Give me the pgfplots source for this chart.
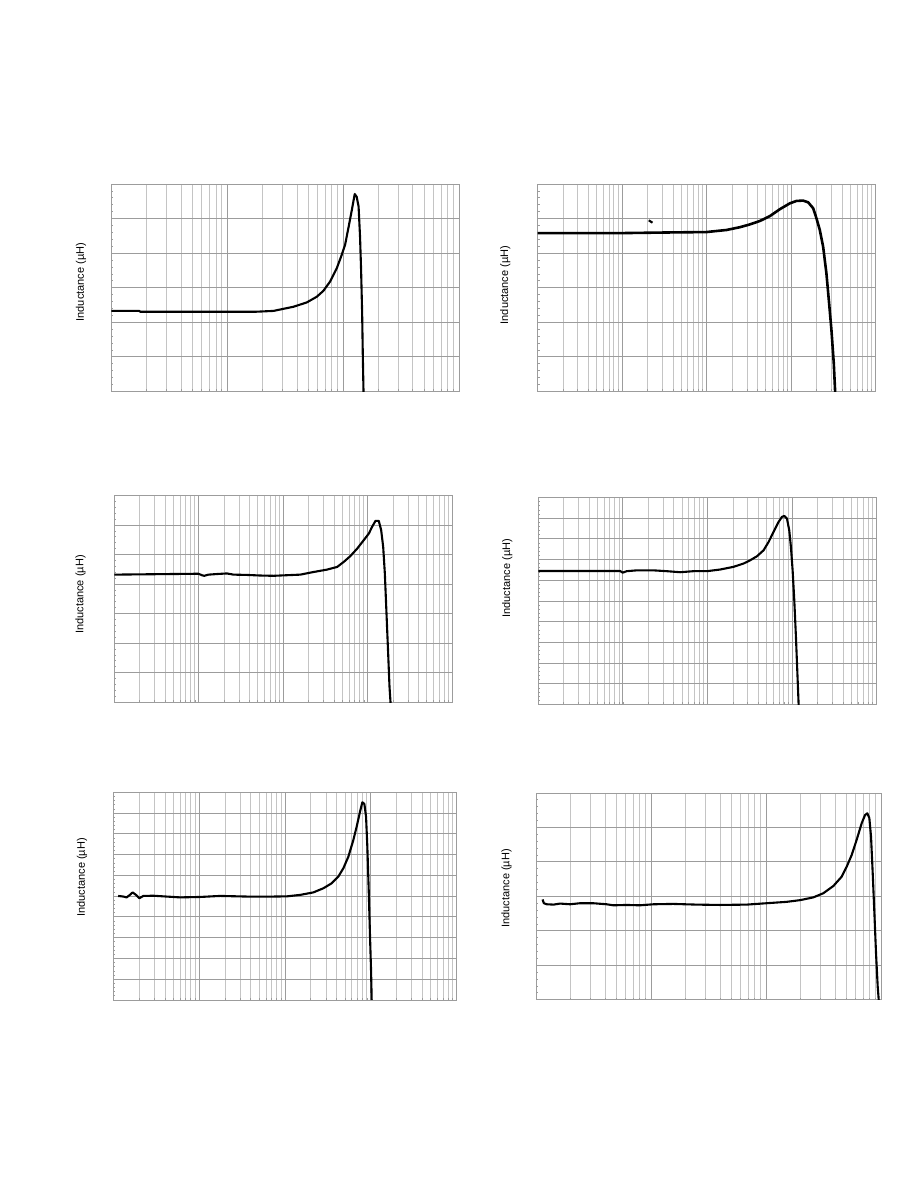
\documentclass[border=0pt]{standalone}
\usepackage{pgfplots}
\pgfplotsset{compat=1.18}
\usepackage{fontspec}
\setmainfont{Liberation Sans}

\definecolor{gridmaj}{HTML}{9C9C9C}
\definecolor{gridmin}{HTML}{C4C4C4}

\pgfplotsset{
  indpanel/.style={
    scale only axis, anchor=south west,
    ymin=0, ytick distance=1, minor y tick num=4,
    xticklabels={}, yticklabels={},
    xmajorgrids, xminorgrids, ymajorgrids,
    major grid style={draw=gridmaj, line width=0.9pt},
    minor grid style={draw=gridmin, line width=0.9pt},
    axis line style={draw=gridmaj, line width=0.9pt},
    major tick length=0pt, minor tick length=2pt,
    tick style={draw=gridmaj, line width=0.8pt},
    ytick pos=left, xtick pos=bottom,
    ylabel={Inductance (µH)},
    label style={font=\fontsize{11}{13}\selectfont},
  },
  ylpos/.style 2 args={ylabel style={at={(axis description cs:#1,#2)}, anchor=center}},
}
\tikzset{indcurve/.style={black, line width=2.1pt, line join=round}}

\begin{document}
\begin{tikzpicture}
\path (0,0) rectangle (918pt,1188pt);

% top left
\begin{semilogxaxis}[indpanel, at={(111.3pt,796.5pt)}, width=347.7pt, height=207.5pt,
  xmin=1, xmax=1000, ymax=6, ylpos={-0.087}{0.527}]
\addplot[indcurve, no markers] coordinates {
(1,2.33)(1.74,2.33)(1.78,2.305)(17.4,2.305)(25.1,2.33)(28.6,2.37)(37.3,2.45)
(48.6,2.575)(59.3,2.74)(67.6,2.91)(77.3,3.18)(88.1,3.56)(97.3,3.95)(104,4.24)
(111,4.72)(119,5.25)(126,5.71)(131,5.63)(136,5.35)(140,4.48)(143,3.51)
(146,2.26)(148,1.01)(150,0)(152,-1)};
\end{semilogxaxis}

% top right
\begin{semilogxaxis}[indpanel, at={(537.5pt,796.5pt)}, width=338.2pt, height=207.5pt,
  xmin=1, xmax=10000, ymax=6, ylpos={-0.095}{0.513}]
\addplot[indcurve, no markers, line width=2.6pt] coordinates {
(1,4.58)(9.85,4.58)(40.2,4.60)(99.6,4.61)(119,4.63)(172,4.67)(247,4.75)
(324,4.83)(426,4.93)(559,5.07)(734,5.27)(964,5.44)(1156,5.51)(1387,5.52)
(1588,5.47)(1820,5.30)(1991,5.01)(2182,4.67)(2388,4.19)(2614,3.41)
(2811,2.55)(2997,1.77)(3193,0.81)(3311,0)(3467,-1)};
\addplot[indcurve, no markers] coordinates {(20.7,4.95)(22.9,4.88)};
\end{semilogxaxis}

% middle left
\begin{semilogxaxis}[indpanel, at={(114.3pt,485.8pt)}, width=338pt, height=206.7pt,
  xmin=1, xmax=10000, ymax=7, ylpos={-0.1}{0.521}]
\addplot[indcurve, no markers] coordinates {
(1,4.32)(9.91,4.35)(10.9,4.30)(11.6,4.28)(13.0,4.32)(16.3,4.34)(21.5,4.36)
(25.8,4.32)(37.1,4.31)(53.4,4.29)(76.8,4.28)(110,4.30)(159,4.32)(229,4.41)
(329,4.49)(433,4.58)(519,4.75)(622,4.95)(748,5.20)(897,5.49)(1028,5.71)
(1125,5.94)(1233,6.14)(1349,6.14)(1439,5.83)(1521,5.26)(1591,4.36)
(1665,3.00)(1742,1.65)(1807,0.52)(1857,0)(1950,-1)};
\end{semilogxaxis}

% middle right
\begin{semilogxaxis}[indpanel, at={(538.3pt,483.5pt)}, width=338.4pt, height=207pt,
  xmin=1, xmax=10000, ymax=10, ylpos={-0.092}{0.61}]
\addplot[indcurve, no markers] coordinates {
(1,6.45)(9.25,6.45)(9.95,6.37)(11.1,6.44)(14.6,6.48)(23.0,6.48)(33.0,6.44)
(47.5,6.39)(68.3,6.44)(98.2,6.44)(141,6.52)(203,6.65)(267,6.81)(320,6.97)
(384,7.16)(460,7.45)(527,7.85)(604,8.34)(692,8.82)(758,9.06)(808,9.11)
(869,8.98)(925,8.42)(968,7.61)(1014,6.48)(1061,5.03)(1110,3.26)(1151,1.65)
(1194,0)(1259,-1)};
\end{semilogxaxis}

% bottom left
\begin{semilogxaxis}[indpanel, at={(113.3pt,188pt)}, width=343.4pt, height=207.7pt,
  xmin=1, xmax=10000, ymax=10, ylpos={-0.091}{0.59}]
\addplot[indcurve, no markers] coordinates {
(1.14,5.01)(1.31,4.98)(1.43,4.94)(1.56,5.06)(1.68,5.18)(1.84,5.06)(2.01,4.90)
(2.24,5.01)(2.92,5.02)(4.18,4.98)(5.98,4.94)(10.2,4.96)(17.5,5.01)(35.8,4.98)
(73.1,4.98)(105,4.99)(150,5.06)(214,5.18)(280,5.38)(350,5.62)(418,5.94)
(478,6.34)(547,6.90)(625,7.70)(684,8.35)(748,9.07)(796,9.52)(840,9.44)
(879,8.83)(910,7.38)(944,5.30)(978,3.05)(1005,1.44)(1023,0)(1072,-1)};
\end{semilogxaxis}

% bottom right
\begin{semilogxaxis}[indpanel, at={(536pt,188.3pt)}, width=345pt, height=206.7pt,
  xmin=1, xmax=1000, ymax=6, ylpos={-0.0855}{0.539}]
\addplot[indcurve, no markers] coordinates {
(1.14,2.91)(1.17,2.80)(1.24,2.77)(1.42,2.76)(1.62,2.79)(1.98,2.77)(2.41,2.80)
(3.15,2.80)(4.11,2.77)(4.70,2.74)(6.14,2.75)(8.02,2.74)(10.5,2.77)(15.6,2.78)
(24.9,2.76)(39.8,2.75)(67.9,2.76)(101,2.80)(151,2.84)(198,2.89)(258,2.97)
(315,3.09)(385,3.30)(455,3.57)(503,3.86)(556,4.20)(614,4.64)(679,5.12)
(726,5.36)(761,5.41)(792,5.27)(819,4.73)(847,3.67)(876,2.51)(905,1.35)
(936,0.38)(955,0)(1000,-0.5)};
\end{semilogxaxis}
\end{tikzpicture}
\end{document}
